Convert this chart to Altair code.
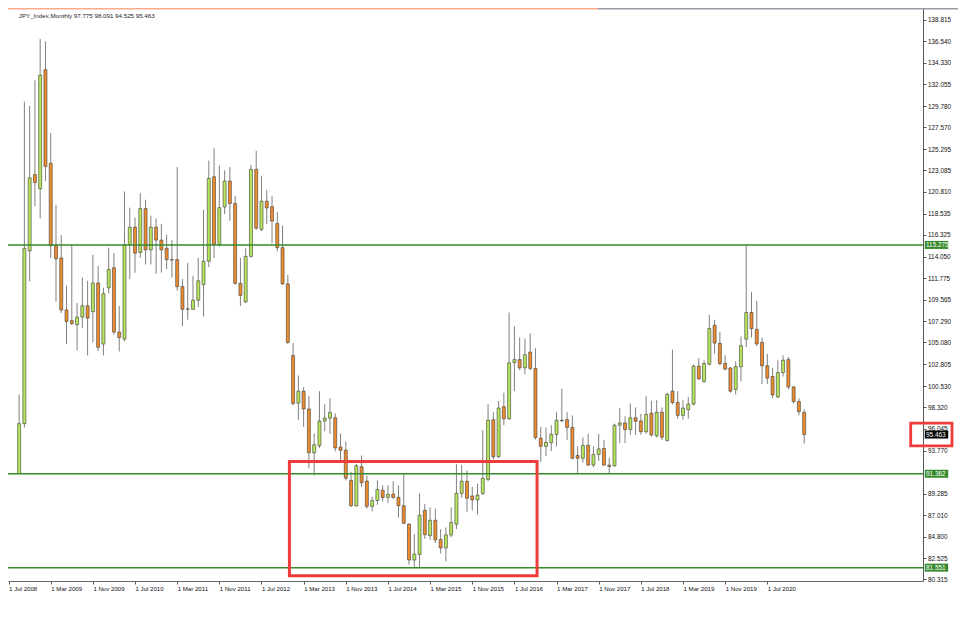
import altair as alt
import pandas as pd

symbol = "JPY_Index,Monthly"

bar_open = [91.38, 96.60, 114.66, 122.63, 121.14, 133.59, 123.82, 115.20, 113.91, 108.48,
            107.36, 106.95, 107.74, 108.92, 108.31, 111.30, 104.92, 110.79, 112.89, 106.17,
            105.43, 115.30, 117.13, 114.49, 119.07, 114.76, 117.13, 115.78, 114.93, 113.74,
            113.74, 110.92, 108.55, 108.55, 109.50, 111.13, 113.57, 122.40, 115.33, 119.24,
            121.95, 119.61, 111.26, 109.32, 114.08, 123.17, 116.90, 119.85, 119.27, 117.51,
            114.99, 111.20, 103.73, 98.74, 99.99, 98.13, 93.55, 94.30, 96.88, 97.18,
            97.21, 94.16, 93.82, 90.67, 88.02, 92.09, 90.60, 87.95, 88.56, 89.65,
            88.90, 89.24, 88.90, 88.02, 86.09, 82.35, 82.93, 87.54, 84.90, 86.50,
            84.49, 83.61, 84.97, 86.09, 89.31, 90.57, 89.04, 88.63, 89.31, 90.77,
            97.01, 93.14, 98.37, 97.11, 102.98, 103.29, 102.44, 104.07, 102.37, 95.08,
            94.23, 94.60, 95.48, 96.95, 97.01, 96.20, 93.28, 92.98, 94.33, 92.27,
            93.38, 94.00, 92.27, 92.20, 96.44, 96.67, 95.99, 97.21, 96.88, 95.76,
            97.69, 95.32, 97.79, 94.84, 99.99, 98.81, 97.46, 98.07, 98.64, 102.61,
            101.02, 102.81, 106.88, 104.99, 102.88, 102.42, 100.17, 102.55, 105.43, 108.21,
            106.45, 105.09, 102.65, 101.53, 99.39, 101.94, 103.29, 100.44, 98.91, 97.775]
bar_high = [99.65, 130.27, 129.79, 132.47, 136.81, 136.55, 126.98, 119.45, 116.30, 111.02,
            115.33, 109.20, 111.87, 111.53, 114.25, 113.06, 110.79, 114.99, 114.42, 108.90,
            120.87, 119.17, 118.15, 120.70, 120.00, 118.36, 118.05, 117.47, 116.35, 115.78,
            123.41, 111.71, 113.40, 112.04, 113.91, 118.96, 124.09, 125.38, 123.58, 123.07,
            123.41, 120.39, 113.91, 114.93, 123.65, 125.11, 122.46, 121.03, 120.36, 118.73,
            117.31, 112.14, 105.02, 101.63, 100.41, 99.49, 95.58, 99.99, 98.64, 99.25,
            97.69, 95.58, 94.74, 91.58, 92.40, 93.28, 91.18, 88.97, 90.67, 90.16,
            90.16, 90.60, 90.16, 91.35, 86.19, 85.07, 89.31, 88.19, 87.85, 87.72,
            85.58, 85.75, 87.85, 92.37, 92.27, 91.69, 89.99, 90.33, 95.93, 98.64,
            97.79, 98.98, 99.83, 108.21, 106.78, 105.60, 105.50, 106.04, 104.48, 96.27,
            96.20, 96.44, 97.79, 100.24, 97.79, 97.46, 94.23, 95.15, 95.52, 94.23,
            95.52, 94.91, 93.04, 96.60, 98.23, 97.36, 98.71, 98.30, 97.62, 99.49,
            98.98, 99.05, 98.30, 99.83, 104.34, 99.99, 99.05, 99.39, 102.78, 103.46,
            103.22, 107.97, 107.46, 106.17, 103.73, 102.50, 103.12, 105.70, 115.33, 110.34,
            109.43, 105.60, 103.90, 102.44, 103.22, 103.73, 103.56, 100.51, 99.25, 98.091]
bar_low = [91.36, 96.20, 111.47, 119.34, 118.05, 121.95, 113.91, 109.33, 108.15, 104.92,
           106.90, 104.24, 106.62, 103.73, 105.09, 104.20, 103.73, 110.20, 105.90, 104.14,
           105.20, 111.71, 112.38, 113.91, 113.23, 113.23, 112.28, 112.38, 112.72, 111.87,
           110.50, 106.78, 107.46, 108.50, 108.80, 107.79, 112.96, 113.91, 115.10, 118.50,
           117.81, 111.13, 108.89, 109.20, 113.98, 116.83, 116.73, 117.47, 115.44, 114.59,
           111.13, 104.92, 98.50, 96.95, 96.27, 91.92, 91.18, 94.06, 95.80, 95.52,
           93.70, 92.60, 90.66, 87.90, 87.90, 89.98, 87.72, 87.44, 88.12, 88.46,
           88.29, 88.73, 86.77, 86.09, 81.84, 81.60, 81.60, 84.56, 84.46, 84.12,
           83.03, 82.19, 84.73, 85.58, 88.87, 87.38, 87.54, 87.11, 89.14, 90.57,
           92.88, 93.01, 96.44, 96.98, 100.00, 102.17, 101.76, 102.17, 94.94, 92.60,
           93.21, 93.72, 94.23, 96.78, 94.91, 92.88, 91.36, 92.53, 92.20, 92.02,
           92.70, 92.20, 91.36, 92.10, 94.57, 94.57, 95.42, 95.42, 95.45, 95.55,
           95.25, 95.15, 94.91, 94.74, 98.60, 97.11, 97.01, 97.11, 98.50, 101.18,
           100.85, 102.68, 103.90, 102.68, 102.17, 99.83, 99.65, 101.02, 104.60, 105.60,
           104.72, 100.75, 100.75, 99.25, 99.25, 101.53, 100.17, 98.71, 97.46, 94.525]
bar_close = [96.60, 114.92, 122.29, 121.79, 133.02, 123.48, 115.20, 113.84, 108.48, 107.29,
             107.05, 107.74, 108.92, 107.63, 111.30, 104.58, 110.18, 112.72, 106.17, 105.60,
             115.27, 117.13, 114.42, 119.07, 114.76, 117.13, 115.78, 114.76, 113.74, 113.70,
             110.92, 108.55, 108.60, 109.50, 111.53, 113.57, 122.23, 115.33, 119.17, 121.95,
             119.61, 111.26, 110.00, 114.08, 123.17, 117.03, 119.85, 119.14, 117.77, 114.99,
             111.20, 105.09, 98.71, 99.99, 98.13, 93.55, 94.40, 96.88, 97.18, 97.76,
             94.06, 93.82, 90.90, 88.02, 92.20, 90.43, 87.95, 88.56, 89.72, 88.87,
             89.21, 88.90, 88.02, 86.19, 82.35, 82.96, 87.03, 85.00, 86.50, 84.46,
             83.61, 84.97, 86.26, 89.31, 90.57, 88.81, 88.63, 89.14, 90.90, 96.95,
             93.14, 98.23, 97.11, 102.95, 103.29, 102.44, 103.80, 102.37, 95.15, 94.23,
             94.64, 95.48, 96.95, 96.90, 96.20, 92.98, 92.98, 94.33, 92.27, 93.38,
             93.96, 92.27, 92.12, 96.44, 96.67, 95.99, 97.21, 96.85, 95.76, 97.56,
             95.42, 97.79, 95.18, 99.66, 98.81, 97.46, 98.23, 98.64, 102.61, 101.28,
             102.88, 106.55, 105.02, 102.88, 102.30, 99.99, 102.55, 104.75, 108.21, 106.52,
             104.92, 102.65, 101.36, 99.59, 101.94, 103.22, 100.44, 98.91, 97.86, 95.463]

# bar index 0 = 1 Sep 2008; a label every 8 months
x_tick_bars = [-2, 6, 14, 22, 30, 38, 46, 54, 62, 70, 78, 86, 94, 102, 110, 118, 126, 134, 142]
x_tick_labels = ["1 Jul 2008", "1 Mar 2009", "1 Nov 2009", "1 Jul 2010", "1 Mar 2011",
                 "1 Nov 2011", "1 Jul 2012", "1 Mar 2013", "1 Nov 2013", "1 Jul 2014",
                 "1 Mar 2015", "1 Nov 2015", "1 Jul 2016", "1 Mar 2017", "1 Nov 2017",
                 "1 Jul 2018", "1 Mar 2019", "1 Nov 2019", "1 Jul 2020"]
y_tick_values = [138.815, 136.540, 134.330, 132.055, 129.780, 127.570, 125.295, 123.085,
                 120.810, 118.535, 116.325, 114.050, 111.775, 109.565, 107.290, 105.080,
                 102.805, 100.530, 98.320, 96.045, 93.770, 89.285, 87.010, 84.800,
                 82.525, 80.315]
level_prices = [115.275, 91.362, 81.551]
zone_bars = [51.3, 98.3]
zone_prices = [92.65, 80.69]

BULL = "#b6e65a"
BEAR = "#ee8c2d"
WICK = "#808080"
LEVEL = "#368a2c"
RED = "#ee3b3b"
FONT = "Liberation Sans"

df = pd.DataFrame({
    "bar": list(range(len(bar_open))),
    "open": bar_open, "high": bar_high, "low": bar_low, "close": bar_close,
})
levels = pd.DataFrame({"price": level_prices,
                       "label": [f"{p:.3f}" for p in level_prices]})
last = pd.DataFrame({"price": [bar_close[-1]], "label": [f"{bar_close[-1]:.3f}"]})
zone = pd.DataFrame({"x1": [zone_bars[0]], "x2": [zone_bars[1]],
                     "y1": [zone_prices[0]], "y2": [zone_prices[1]]})
head = pd.DataFrame({"t": [f"{symbol}  {bar_open[-1]:.3f} {bar_high[-1]:.3f} "
                          f"{bar_low[-1]:.3f} {bar_close[-1]:.3f}"]})
dummy = pd.DataFrame({"a": [0]})

x_scale = alt.Scale(domain=[-2.1086, 171.55], nice=False, zero=False, padding=0)
y_scale = alt.Scale(domain=[80.154, 140.037], nice=False, zero=False, padding=0)

label_js = "[" + ",".join(f"'{s}'" for s in x_tick_labels) + "]"
ticks_js = "[" + ",".join(str(v) for v in x_tick_bars) + "]"

x_axis = alt.Axis(values=x_tick_bars, labelExpr=f"{label_js}[indexof({ticks_js}, datum.value)]",
                  tickSize=3, tickColor="#555555", domainColor="#666666", labelAlign="left",
                  labelBaseline="top", labelPadding=1, labelFontSize=6.1, labelFont=FONT,
                  labelColor="#111111", grid=False, title=None, labelFlush=False,
                  labelOverlap=False)
y_axis = alt.Axis(orient="right", values=y_tick_values, format=".3f", tickSize=3,
                  tickColor="#555555", domainColor="#555555", labelAlign="left",
                  labelBaseline="middle", labelPadding=1.5, labelFontSize=6.4, labelFont=FONT,
                  labelColor="#111111", grid=False, title=None, labelOverlap=False,
                  labelFlush=False)

base = alt.Chart(df)

wicks = base.mark_rule(color=WICK, strokeWidth=1).encode(
    x=alt.X("bar:Q", scale=x_scale, axis=x_axis),
    y=alt.Y("low:Q", scale=y_scale, axis=y_axis),
    y2="high:Q",
)

bodies = base.mark_bar(size=3, stroke="#3c3c3c", strokeWidth=0.6).encode(
    x=alt.X("bar:Q", scale=x_scale, axis=x_axis),
    y=alt.Y("open:Q", scale=y_scale, axis=y_axis),
    y2="close:Q",
    color=alt.condition("datum.close >= datum.open", alt.value(BULL), alt.value(BEAR)),
)

level_lines = alt.Chart(levels).mark_rule(color=LEVEL, strokeWidth=1.5).encode(
    y=alt.Y("price:Q", scale=y_scale, axis=y_axis),
)

level_boxes = alt.Chart(levels).mark_rect(color=LEVEL, yOffset=-4, y2Offset=4).encode(
    x=alt.value(916.8), x2=alt.value(940.2),
    y=alt.Y("price:Q", scale=y_scale, axis=y_axis), y2="price:Q",
)
level_text = alt.Chart(levels).mark_text(align="left", baseline="middle", color="white",
                                         fontSize=6.4, font=FONT).encode(
    x=alt.value(918), y=alt.Y("price:Q", scale=y_scale, axis=y_axis), text="label:N",
)

last_box = alt.Chart(last).mark_rect(color="#000000", yOffset=-4, y2Offset=4).encode(
    x=alt.value(916.8), x2=alt.value(940.2),
    y=alt.Y("price:Q", scale=y_scale, axis=y_axis), y2="price:Q",
)
last_text = alt.Chart(last).mark_text(align="left", baseline="middle", color="white",
                                      fontSize=6.4, font=FONT).encode(
    x=alt.value(918), y=alt.Y("price:Q", scale=y_scale, axis=y_axis), text="label:N",
)
last_frame = alt.Chart(last).mark_rect(filled=False, stroke=RED, strokeWidth=2.8,
                                       yOffset=-11.4, y2Offset=11.4).encode(
    x=alt.value(902.7), x2=alt.value(944),
    y=alt.Y("price:Q", scale=y_scale, axis=y_axis), y2="price:Q",
)

zone_frame = alt.Chart(zone).mark_rect(filled=False, stroke=RED, strokeWidth=3).encode(
    x=alt.X("x1:Q", scale=x_scale, axis=x_axis), x2="x2:Q",
    y=alt.Y("y1:Q", scale=y_scale, axis=y_axis), y2="y2:Q",
)

header = alt.Chart(head).mark_text(align="left", baseline="middle", fontSize=6.2,
                                   font=FONT, color="#222222").encode(
    x=alt.value(10.8), y=alt.value(8), text="t:N",
)

top_a = alt.Chart(dummy).mark_rule(color="#fbaa8e", strokeWidth=1.5).encode(
    x=alt.value(0), x2=alt.value(590), y=alt.value(0.75))
top_b = alt.Chart(dummy).mark_rule(color="#9a9aa6", strokeWidth=1.5).encode(
    x=alt.value(590), x2=alt.value(950), y=alt.value(0.75))

chart = alt.layer(
    wicks, bodies, level_lines, zone_frame, level_boxes, level_text,
    last_box, last_text, last_frame, header, top_a, top_b,
).properties(
    width=915, height=573,
    autosize=alt.AutoSizeParams(type="none"),
    padding={"left": 0, "top": 0, "right": 35, "bottom": 29},
    background="white",
).configure_view(strokeWidth=0)

chart.save("out.html", embed_options={"renderer": "svg", "actions": False})
